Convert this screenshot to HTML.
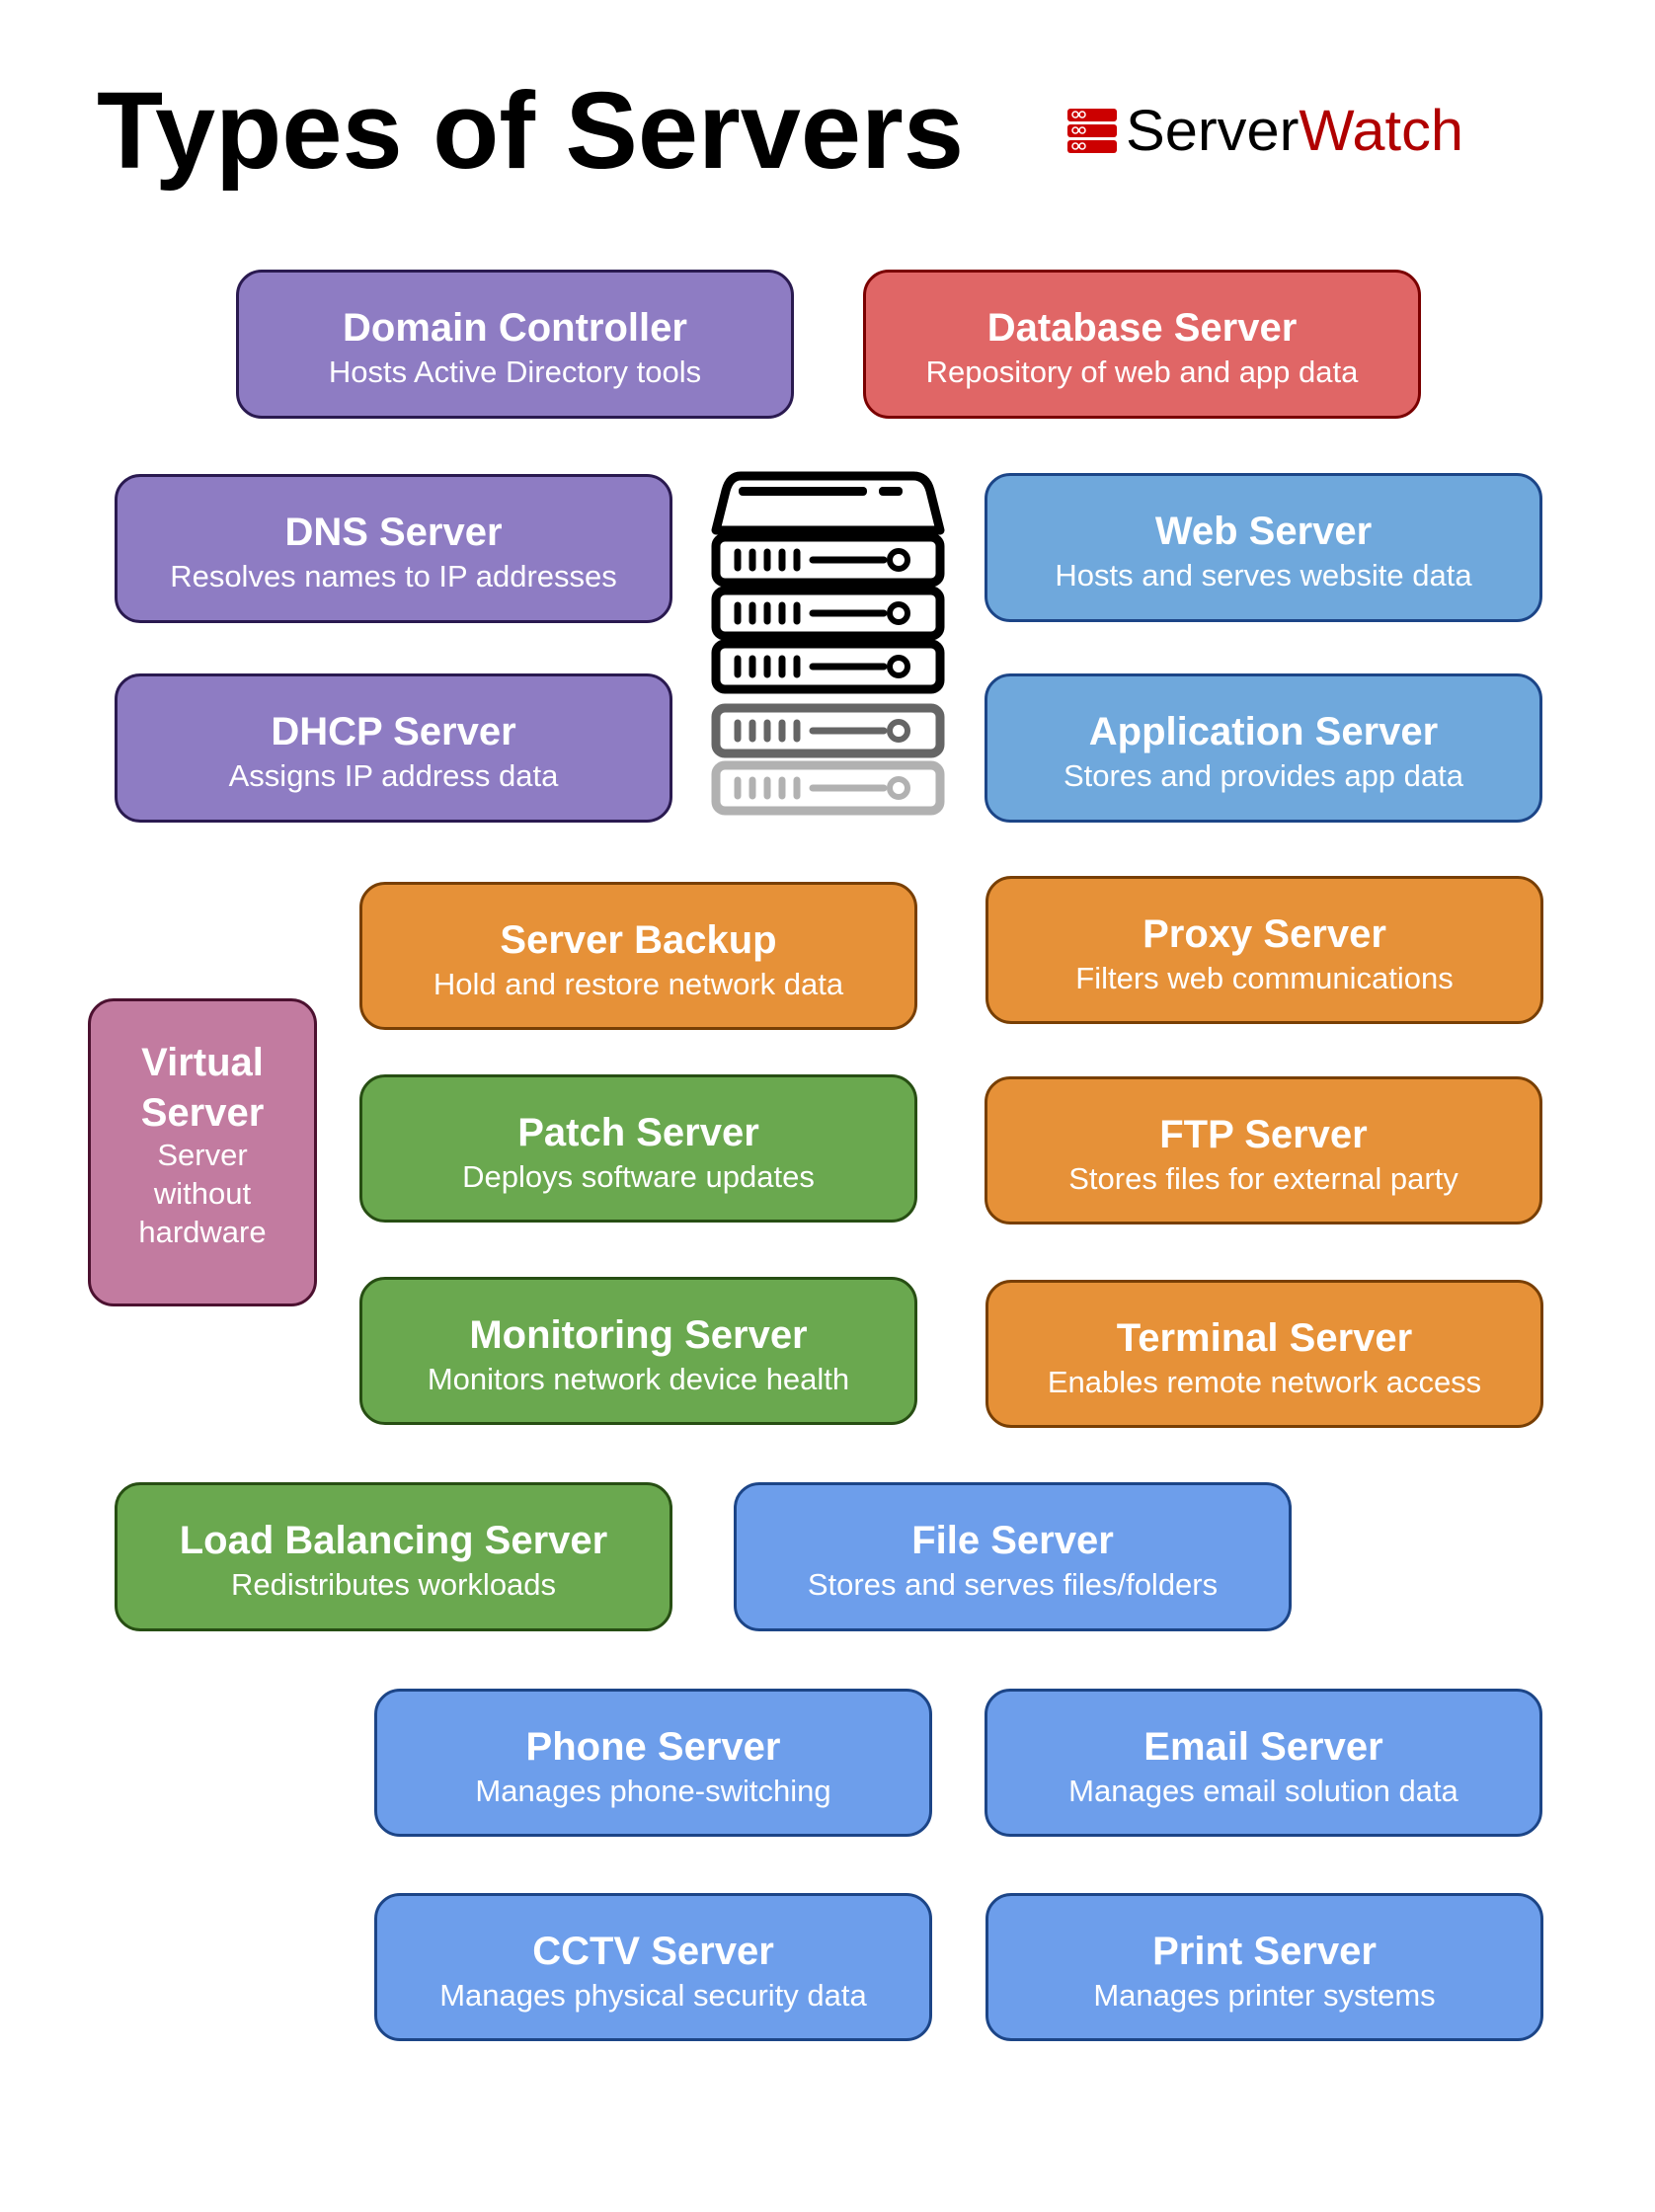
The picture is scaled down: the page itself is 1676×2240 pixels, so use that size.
<!DOCTYPE html>
<html><head><meta charset="utf-8"><style>
body{margin:0;width:1676px;height:2240px;background:#fff;position:relative;font-family:"Liberation Sans",sans-serif;overflow:hidden}
.b{position:absolute;box-sizing:border-box;border:3px solid;border-radius:26px;color:#fff;text-align:center}
.b .t{position:absolute;left:0;right:0;top:33px;font-size:40px;font-weight:bold;line-height:46px}
.b .s{position:absolute;left:0;right:0;top:82px;font-size:31px;line-height:38px}
.pu{background:#8e7cc3;border-color:#2a1a50}
.rd{background:#e06666;border-color:#7a0000}
.lb{background:#6fa8dc;border-color:#1c4587}
.or{background:#e69138;border-color:#783f04}
.gr{background:#6aa84f;border-color:#274e13}
.bl{background:#6d9eeb;border-color:#1c4587}
.pk{background:#c27ba0;border-color:#4c1130}
</style></head><body>
<svg style="position:absolute;left:0;top:0" width="1676" height="200">
<text x="98" y="170" font-family="Liberation Sans" font-weight="bold" font-size="110" textLength="878" lengthAdjust="spacingAndGlyphs">Types of Servers</text>
<g fill="#cc0000"><rect x="1081" y="110" width="50" height="13" rx="3"/><rect x="1081" y="126" width="50" height="13" rx="3"/><rect x="1081" y="142" width="50" height="13" rx="3"/></g>
<g fill="none" stroke="#fff" stroke-width="1.5"><circle cx="1089" cy="116" r="3"/><circle cx="1096" cy="116" r="3"/><circle cx="1089" cy="132" r="3"/><circle cx="1096" cy="132" r="3"/><circle cx="1089" cy="148" r="3"/><circle cx="1096" cy="148" r="3"/></g>
<text x="1140" y="152" font-family="Liberation Sans" font-size="58" textLength="342" lengthAdjust="spacingAndGlyphs"><tspan fill="#000">Server</tspan><tspan fill="#b00000">Watch</tspan></text>
</svg>

<svg style="position:absolute;left:715px;top:472px" width="245" height="390" viewBox="725 480 245 390">
<path d="M760 490 L935 490 Q948 490 952 505 L962 545 L735 545 L745 505 Q749 490 760 490 Z" fill="none" stroke="#000" stroke-width="9" stroke-linejoin="round"/>
<rect x="758" y="501" width="130" height="9" rx="4"/><rect x="900" y="501" width="24" height="9" rx="4"/>
<g id="u" fill="none" stroke="#000" stroke-width="9">
<rect x="735" y="552" width="227" height="46" rx="9"/>
<g stroke-width="7" stroke-linecap="round"><line x1="757" y1="567" x2="757" y2="583"/><line x1="772" y1="567" x2="772" y2="583"/><line x1="787" y1="567" x2="787" y2="583"/><line x1="802" y1="567" x2="802" y2="583"/><line x1="817" y1="567" x2="817" y2="583"/><line x1="833" y1="575" x2="905" y2="575"/></g>
<circle cx="920" cy="575" r="9" stroke-width="6"/>
</g>
<use href="#u" y="54"/><use href="#u" y="108"/>
<use href="#u" y="173" opacity="0.6"/><use href="#u" y="231" opacity="0.3"/>
</svg>

<div class="b pu" style="left:239px;top:273px;width:565px;height:151px"><div class="t">Domain Controller</div><div class="s">Hosts Active Directory tools</div></div>
<div class="b rd" style="left:874px;top:273px;width:565px;height:151px"><div class="t">Database Server</div><div class="s">Repository of web and app data</div></div>
<div class="b pu" style="left:116px;top:480px;width:565px;height:151px"><div class="t">DNS Server</div><div class="s">Resolves names to IP addresses</div></div>
<div class="b lb" style="left:997px;top:479px;width:565px;height:151px"><div class="t">Web Server</div><div class="s">Hosts and serves website data</div></div>
<div class="b pu" style="left:116px;top:682px;width:565px;height:151px"><div class="t">DHCP Server</div><div class="s">Assigns IP address data</div></div>
<div class="b lb" style="left:997px;top:682px;width:565px;height:151px"><div class="t">Application Server</div><div class="s">Stores and provides app data</div></div>
<div class="b or" style="left:364px;top:893px;width:565px;height:150px"><div class="t">Server Backup</div><div class="s">Hold and restore network data</div></div>
<div class="b or" style="left:998px;top:887px;width:565px;height:150px"><div class="t">Proxy Server</div><div class="s">Filters web communications</div></div>
<div class="b pk" style="left:89px;top:1011px;width:232px;height:312px"><div class="t" style="top:37px;line-height:51px">Virtual<br>Server</div><div class="s" style="top:136px;line-height:39px">Server<br>without<br>hardware</div></div>
<div class="b gr" style="left:364px;top:1088px;width:565px;height:150px"><div class="t">Patch Server</div><div class="s">Deploys software updates</div></div>
<div class="b or" style="left:997px;top:1090px;width:565px;height:150px"><div class="t">FTP Server</div><div class="s">Stores files for external party</div></div>
<div class="b gr" style="left:364px;top:1293px;width:565px;height:150px"><div class="t">Monitoring Server</div><div class="s">Monitors network device health</div></div>
<div class="b or" style="left:998px;top:1296px;width:565px;height:150px"><div class="t">Terminal Server</div><div class="s">Enables remote network access</div></div>
<div class="b gr" style="left:116px;top:1501px;width:565px;height:151px"><div class="t">Load Balancing Server</div><div class="s">Redistributes workloads</div></div>
<div class="b bl" style="left:743px;top:1501px;width:565px;height:151px"><div class="t">File Server</div><div class="s">Stores and serves files/folders</div></div>
<div class="b bl" style="left:379px;top:1710px;width:565px;height:150px"><div class="t">Phone Server</div><div class="s">Manages phone-switching</div></div>
<div class="b bl" style="left:997px;top:1710px;width:565px;height:150px"><div class="t">Email Server</div><div class="s">Manages email solution data</div></div>
<div class="b bl" style="left:379px;top:1917px;width:565px;height:150px"><div class="t">CCTV Server</div><div class="s">Manages physical security data</div></div>
<div class="b bl" style="left:998px;top:1917px;width:565px;height:150px"><div class="t">Print Server</div><div class="s">Manages printer systems</div></div>
</body></html>
